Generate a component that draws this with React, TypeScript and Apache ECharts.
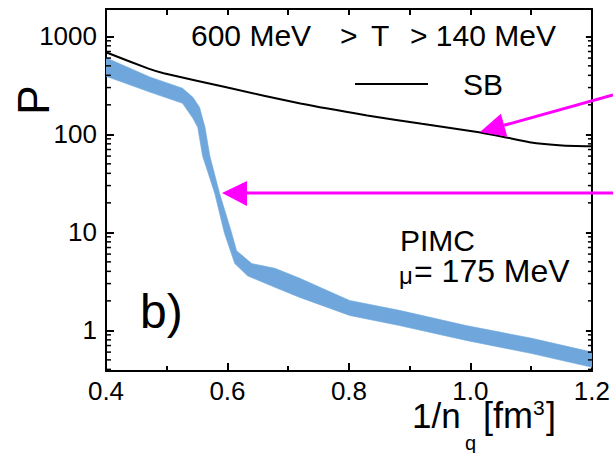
import { useEffect, useRef } from 'react';
import * as echarts from 'echarts';

const xMin = 0.4;
const xMax = 1.2;
const yMin = 0.385;
const yMax = 1900;

const xTickLabels = ['0.4', '0.6', '0.8', '1.0', '1.2'];
const yTickLabels = ['1', '10', '100', '1000'];
const minorLogTicks = [0.4, 0.5, 0.6, 0.7, 0.8, 0.9, 2, 3, 4, 5, 6, 7, 8, 9, 20, 30, 40, 50, 60, 70, 80, 90, 200, 300, 400, 500, 600, 700, 800, 900];

// Stefan-Boltzmann limit
const sbX = [0.4, 0.47, 0.495, 0.6, 0.72, 0.83, 0.92, 1.014, 1.055, 1.097, 1.151, 1.2];
const sbP = [687, 468, 420, 300, 206, 156, 128, 105, 94, 83, 77, 75.5];

// PIMC band, upper and lower edges
const upperX = [0.4, 0.472, 0.526, 0.543, 0.554, 0.563, 0.571, 0.587, 0.607, 0.615, 0.64, 0.678, 0.719, 0.801, 0.883, 0.993, 1.101, 1.2];
const upperP = [606, 385, 295, 239, 189, 118, 60, 25, 9.8, 6.5, 4.8, 4.3, 3.4, 2.02, 1.6, 1.12, 0.83, 0.6];
const lowerX = [0.4, 0.472, 0.526, 0.543, 0.551, 0.559, 0.579, 0.595, 0.612, 0.633, 0.678, 0.719, 0.801, 0.883, 0.993, 1.101, 1.2];
const lowerP = [391, 270, 207, 146, 118, 60, 25, 9.8, 4.8, 3.6, 2.75, 2.17, 1.42, 1.12, 0.79, 0.58, 0.42];

const FONT = '"Liberation Sans", Arial, Helvetica, sans-serif';
const BAND = '#6FA7DC';
const MAGENTA = '#FF00FF';

export default function App() {
  const ref = useRef<HTMLDivElement>(null);

  useEffect(() => {
    if (!ref.current) return;
    const chart = echarts.init(ref.current, undefined, { renderer: 'svg' });

    const axisLine = { show: true, lineStyle: { color: '#000', width: 2 } };

    const txt = (text: string, x: number, y: number, size: number, extra: any = {}) => ({
      type: 'text',
      x,
      y,
      silent: true,
      style: {
        text,
        fill: '#000',
        fontSize: size,
        fontFamily: FONT,
        align: 'left',
        verticalAlign: 'middle',
        ...(extra.style || {}),
      },
      ...(extra.el || {}),
    });

    // arrow 1 geometry
    const a1 = { fx: 613, fy: 95, tx: 480, ty: 132 };
    const d1x = a1.tx - a1.fx, d1y = a1.ty - a1.fy;
    const l1 = Math.hypot(d1x, d1y);
    const u1x = d1x / l1, u1y = d1y / l1;
    const hl = 25, hw = 12;
    const b1x = a1.tx - hl * u1x, b1y = a1.ty - hl * u1y;

    const option: any = {
      animation: false,
      backgroundColor: '#fff',
      grid: { left: 106, right: 20, top: 9, bottom: 82, containLabel: false },
      legend: {
        show: true,
        data: [{ name: 'SB', icon: 'rect' }],
        left: 355,
        top: 69,
        padding: 0,
        itemWidth: 73,
        itemHeight: 2,
        selectedMode: false,
        textStyle: { fontSize: 30, fontFamily: FONT, color: '#000', padding: [0, 0, 0, 30] },
      },
      xAxis: [
        {
          type: 'value',
          position: 'bottom',
          min: xMin,
          max: xMax,
          interval: 0.2,
          axisLine,
          splitLine: { show: false },
          axisTick: { show: true, inside: true, length: 8, lineStyle: { color: '#000', width: 2 } },
          minorTick: { show: true, splitNumber: 2, length: 5, lineStyle: { color: '#000', width: 2 } },
          axisLabel: {
            show: true,
            margin: 10,
            lineHeight: 20,
            fontSize: 26,
            fontFamily: FONT,
            color: '#000',
            formatter: (v: number) => {
              const s = v.toFixed(1);
              return xTickLabels.includes(s) ? s : '';
            },
          },
        },
        {
          type: 'value',
          position: 'top',
          min: xMin,
          max: xMax,
          interval: 0.1,
          axisLine,
          splitLine: { show: false },
          axisTick: { show: true, inside: true, length: 6, lineStyle: { color: '#000', width: 2 } },
          axisLabel: { show: false },
        },
      ],
      yAxis: [
        {
          type: 'log',
          logBase: 10,
          position: 'left',
          min: yMin,
          max: yMax,
          axisLine,
          splitLine: { show: false },
          axisTick: { show: true, inside: true, length: 8, lineStyle: { color: '#000', width: 2 } },
          axisLabel: {
            show: true,
            margin: 9,
            fontSize: 26,
            fontFamily: FONT,
            color: '#000',
            showMinLabel: false,
            showMaxLabel: false,
            formatter: (v: number) => {
              const s = String(Math.round(v));
              return yTickLabels.includes(s) && Math.abs(v - Math.round(v)) < 1e-6 * Math.max(1, v) ? s : '';
            },
          },
        },
        {
          type: 'log',
          logBase: 10,
          position: 'right',
          min: yMin,
          max: yMax,
          axisLine,
          splitLine: { show: false },
          axisTick: { show: true, inside: true, length: 6, lineStyle: { color: '#000', width: 2 } },
          axisLabel: { show: false },
        },
      ],
      series: [
        {
          type: 'custom',
          name: 'PIMC',
          coordinateSystem: 'cartesian2d',
          xAxisIndex: 0,
          yAxisIndex: 0,
          silent: true,
          clip: true,
          data: [[xMin, 1]],
          renderItem: (_params: any, api: any) => {
            const up = upperX.map((x, i) => api.coord([x, upperP[i]]));
            const lo = lowerX.map((x, i) => api.coord([x, lowerP[i]])).reverse();
            return {
              type: 'polygon',
              shape: { points: up.concat(lo) },
              style: { fill: BAND, stroke: BAND, lineWidth: 0.6 },
            };
          },
          z: 2,
        },
        {
          type: 'line',
          name: 'SB',
          xAxisIndex: 0,
          yAxisIndex: 0,
          data: sbX.map((x, i) => [x, sbP[i]]),
          symbol: 'none',
          showSymbol: false,
          color: '#000',
          lineStyle: { color: '#000', width: 2 },
          smooth: 0.15,
          z: 3,
        },
        {
          type: 'custom',
          name: 'minorTicks',
          coordinateSystem: 'cartesian2d',
          xAxisIndex: 0,
          yAxisIndex: 0,
          silent: true,
          clip: false,
          data: minorLogTicks.map((v) => [xMin, v]),
          renderItem: (params: any, api: any) => {
            const cs = params.coordSys;
            const p = api.coord([api.value(0), api.value(1)]);
            const y = p[1];
            const x0 = cs.x;
            const x1 = cs.x + cs.width;
            return {
              type: 'group',
              children: [
                { type: 'line', shape: { x1: x0, y1: y, x2: x0 + 5, y2: y }, style: { stroke: '#000', lineWidth: 1.5 } },
                { type: 'line', shape: { x1: x1, y1: y, x2: x1 - 4, y2: y }, style: { stroke: '#000', lineWidth: 1.5 } },
              ],
            };
          },
          z: 4,
        },
      ],
      graphic: [
        txt('600 MeV', 191, 35, 30),
        txt('>', 340, 35, 30),
        txt('T', 371, 35, 30),
        txt('> 140 MeV', 410, 35, 30),
        txt('PIMC', 400, 240, 30),
        txt('μ', 399, 275, 24),
        txt('= 175 MeV', 414, 271, 32),
        txt('b)', 140, 311, 48),
        txt('P', 33, 100, 44, { style: { align: 'center' }, el: { rotation: Math.PI / 2 } }),
        txt('1/n', 412, 415, 35, { style: { lineHeight: 26 } }),
        txt('q', 465, 443, 20, { style: { lineHeight: 16 } }),
        txt('[fm', 483, 415, 36, { style: { lineHeight: 26 } }),
        txt('3', 533, 407, 21, { style: { lineHeight: 16 } }),
        txt(']', 546, 415, 36, { style: { lineHeight: 26 } }),
        {
          type: 'line',
          silent: true,
          shape: { x1: a1.fx, y1: a1.fy, x2: b1x, y2: b1y },
          style: { stroke: MAGENTA, lineWidth: 3 },
          z: 10,
        },
        {
          type: 'polygon',
          silent: true,
          shape: {
            points: [
              [a1.tx, a1.ty],
              [b1x - hw * u1y, b1y + hw * u1x],
              [b1x + hw * u1y, b1y - hw * u1x],
            ],
          },
          style: { fill: MAGENTA },
          z: 10,
        },
        {
          type: 'line',
          silent: true,
          shape: { x1: 613, y1: 193, x2: 246, y2: 193 },
          style: { stroke: MAGENTA, lineWidth: 3 },
          z: 10,
        },
        {
          type: 'polygon',
          silent: true,
          shape: { points: [[222, 193], [247, 181], [247, 206]] },
          style: { fill: MAGENTA },
          z: 10,
        },
      ],
    };

    chart.setOption(option);
    return () => chart.dispose();
  }, []);

  return <div ref={ref} style={{ width: 613, height: 453, position: 'absolute', left: 0, top: 0 }} />;
}
